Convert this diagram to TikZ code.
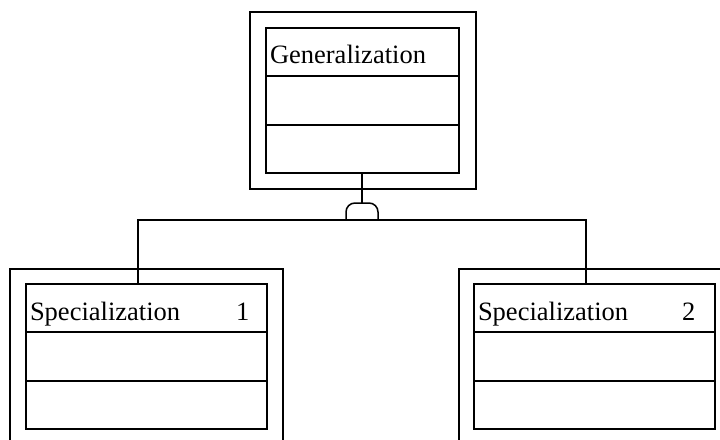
\documentclass[tikz,border=0pt]{standalone}
\usepackage{fontspec}
\setmainfont{Liberation Serif}
\usetikzlibrary{calc}
\begin{document}
\begin{tikzpicture}[x=1pt,y=-1pt,
  line width=1.5pt,
  outerbox/.style={draw,rectangle,inner sep=0pt,minimum width=#1},
  classbox/.style={draw,rectangle,inner sep=0pt,minimum height=145pt},
  lbl/.style={anchor=base west,inner sep=0pt,font=\fontsize{26.5}{30}\selectfont}]
\useasboundingbox (0,0) rectangle (720,439);
\clip (0,0) rectangle (720,439);
\fill[white] (0,0) rectangle (720,439);
% generalization
\node[outerbox=226pt,minimum height=177pt] (go) at (363,100.5) {};
\node[classbox,minimum width=193pt] (g) at (362.5,100.5) {};
\draw ($(g.north west)!1/3!(g.south west)$) -- ($(g.north east)!1/3!(g.south east)$);
\draw ($(g.north west)!2/3!(g.south west)$) -- ($(g.north east)!2/3!(g.south east)$);
\node[lbl] (gt) at ([shift={(4pt,-36pt)}]g.north west) {Generalization};
% specialization 1
\node[outerbox=273pt,minimum height=176pt] (s1o) at (146.5,357) {};
\node[classbox,minimum width=241pt] (s1) at (146.5,356.5) {};
\draw ($(s1.north west)!1/3!(s1.south west)$) -- ($(s1.north east)!1/3!(s1.south east)$);
\draw ($(s1.north west)!2/3!(s1.south west)$) -- ($(s1.north east)!2/3!(s1.south east)$);
\node[lbl] (s1t) at ([shift={(4pt,-37pt)}]s1.north west) {Specialization\hspace{56pt}1};
% specialization 2
\node[outerbox=273pt,minimum height=176pt] (s2o) at (595.5,357) {};
\node[classbox,minimum width=241pt] (s2) at (594.5,356.5) {};
\draw ($(s2.north west)!1/3!(s2.south west)$) -- ($(s2.north east)!1/3!(s2.south east)$);
\draw ($(s2.north west)!2/3!(s2.south west)$) -- ($(s2.north east)!2/3!(s2.south east)$);
\node[lbl] (s2t) at ([shift={(4pt,-37pt)}]s2.north west) {Specialization\hspace{54pt}2};
% generalization symbol
\coordinate (dm) at (362,220);
\coordinate (dtop) at (362,203);
\draw[rounded corners=9pt] ([xshift=-16pt]dm) -- ([xshift=-16pt]dtop) -- ([xshift=16pt]dtop) -- ([xshift=16pt]dm);
\draw ([xshift=-0.5pt]g.south) -- (dtop);
\draw ([xshift=-8.5pt]s1.north) |- (dm) -| ([xshift=-8.5pt]s2.north);
\end{tikzpicture}
\end{document}
